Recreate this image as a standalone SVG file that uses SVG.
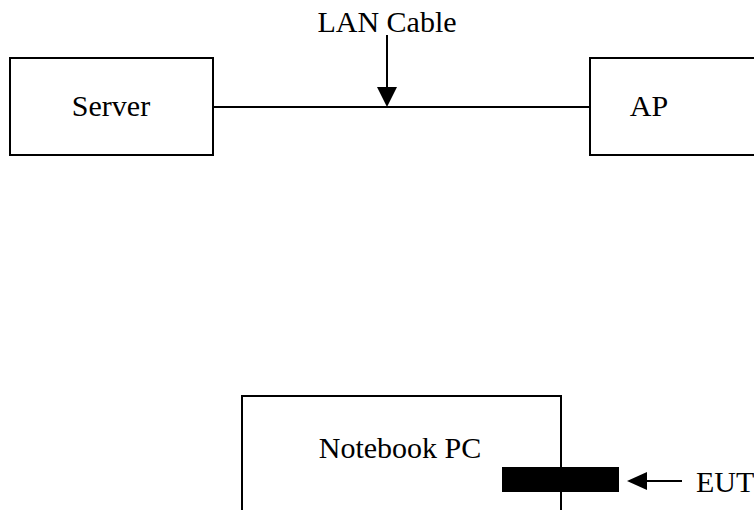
<svg xmlns="http://www.w3.org/2000/svg" width="754" height="510" viewBox="0 0 754 510">
<defs>
<style>
.box{fill:#fff;stroke:#000;stroke-width:2}
.t{font-family:"Liberation Serif","Times New Roman",serif;font-size:30px;fill:#000}
.ln{stroke:#000;stroke-width:2;fill:none}
</style>
</defs>
<rect width="754" height="510" fill="#fff"/>
<g id="connectors">
<line class="ln" x1="213" y1="107" x2="590" y2="107"/>
<line class="ln" x1="387" y1="35" x2="387" y2="88"/>
<path d="M377,87 L397,87 L387,107 Z" fill="#000"/>
<line class="ln" x1="645" y1="481" x2="682" y2="481"/>
<path d="M647,472 L647,490 L627,481 Z" fill="#000"/>
</g>
<g id="server">
<rect class="box" x="10" y="58" width="203" height="97"/>
<text class="t" x="111" y="116" text-anchor="middle">Server</text>
</g>
<g id="ap">
<rect class="box" x="590" y="58" width="180" height="97"/>
<text class="t" x="649" y="116" text-anchor="middle">AP</text>
</g>
<g id="lan-label">
<text class="t" x="387" y="32" text-anchor="middle">LAN Cable</text>
</g>
<g id="notebook">
<rect class="box" x="242" y="396" width="319" height="130"/>
<text class="t" x="400" y="458" text-anchor="middle">Notebook PC</text>
</g>
<g id="eut">
<rect x="502" y="467" width="117" height="25" fill="#000"/>
<text class="t" x="696" y="492">EUT</text>
</g>
</svg>
